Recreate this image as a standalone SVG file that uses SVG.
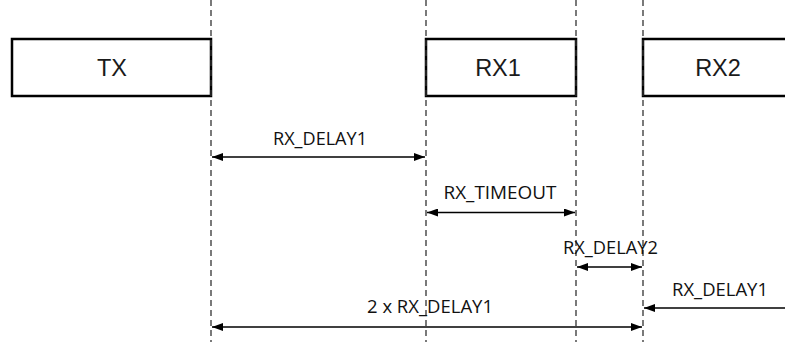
<svg xmlns="http://www.w3.org/2000/svg" width="785" height="342" viewBox="0 0 785 342">
<defs>
<style>
.box{fill:#fff;stroke:#000;stroke-width:2.5}
.bl{font-family:"Liberation Sans",Arial,sans-serif;font-size:23.5px;fill:#1a1a1a;text-anchor:middle}
.vl{stroke:#333;stroke-width:1.3;stroke-dasharray:6,4;fill:none}
.ar{stroke:#000;stroke-width:1.7;fill:none}
.lb{font-family:"Open Sans","Noto Sans",sans-serif;font-size:17.5px;fill:#111;text-anchor:middle}
</style>
<marker id="ah" viewBox="0 0 11 8" refX="11" refY="4" markerWidth="11" markerHeight="8" markerUnits="userSpaceOnUse" orient="auto-start-reverse">
<path d="M0,0 L11,4 L0,8 Z" fill="#000"/>
</marker>
</defs>
<rect width="785" height="342" fill="#fff"/>
<g id="tx"><rect class="box" x="12" y="39" width="199" height="57"/><text class="bl" x="112" y="76">TX</text></g>
<g id="rx1"><rect class="box" x="426" y="39" width="150" height="57"/><text class="bl" x="498" y="76">RX1</text></g>
<g id="rx2"><rect class="box" x="643" y="39" width="160" height="57"/><text class="bl" x="718" y="76">RX2</text></g>
<g id="guides">
<line class="vl" x1="211" y1="0" x2="211" y2="342"/>
<line class="vl" x1="426" y1="0" x2="426" y2="342"/>
<line class="vl" x1="576" y1="0" x2="576" y2="342"/>
<line class="vl" x1="643" y1="0" x2="643" y2="342"/>
</g>
<g id="connectors">
<line class="ar" x1="212" y1="157" x2="425" y2="157" marker-start="url(#ah)" marker-end="url(#ah)"/>
<line class="ar" x1="427" y1="212.5" x2="575" y2="212.5" marker-start="url(#ah)" marker-end="url(#ah)"/>
<line class="ar" x1="577" y1="267" x2="642" y2="267" marker-start="url(#ah)" marker-end="url(#ah)"/>
<line class="ar" x1="644" y1="308" x2="785" y2="308" marker-start="url(#ah)"/>
<line class="ar" x1="212" y1="327" x2="642" y2="327" marker-start="url(#ah)" marker-end="url(#ah)"/>
</g>
<g id="labels">
<text class="lb" x="320" y="145" textLength="94" lengthAdjust="spacingAndGlyphs">RX_DELAY1</text>
<text class="lb" x="500" y="199" textLength="113" lengthAdjust="spacingAndGlyphs">RX_TIMEOUT</text>
<text class="lb" x="610.5" y="254" textLength="95" lengthAdjust="spacingAndGlyphs">RX_DELAY2</text>
<text class="lb" x="720" y="296" textLength="96" lengthAdjust="spacingAndGlyphs">RX_DELAY1</text>
<text class="lb" x="430" y="313" textLength="126" lengthAdjust="spacingAndGlyphs">2 x RX_DELAY1</text>
</g>
</svg>
